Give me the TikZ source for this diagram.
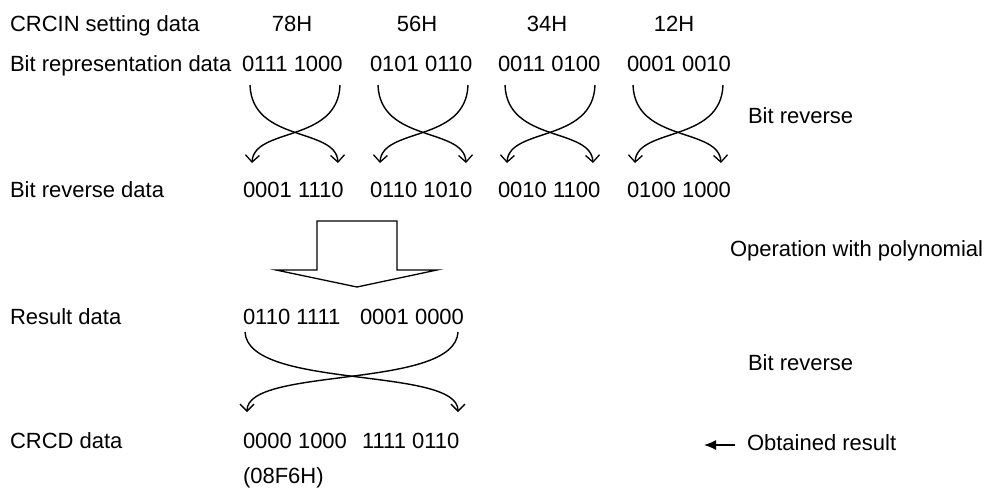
\documentclass[tikz,border=0pt]{standalone}
\usepackage{fontspec}
\setmainfont{Liberation Sans}
\usetikzlibrary{arrows.meta}
\tikzset{
  txt/.style={inner sep=0pt, outer sep=0pt, anchor=base west, font=\fontsize{22}{26}\selectfont},
  hex/.style={txt, anchor=base},
  xarrow/.style={line width=1.4pt, -{Straight Barb[length=7pt,width=14pt,line width=1.3pt]}},
  blockarrow/.style={line width=1.3pt, line join=miter},
  resarrow/.style={line width=1.3pt, -{Latex[length=12pt,width=10pt]}}
}
\begin{document}
\begin{tikzpicture}[x=1pt,y=-1pt]
\useasboundingbox[fill=white] (0,0) rectangle (986,496);
% left labels
\node[txt] (l1) at (10,31) {CRCIN setting data};
\node[txt] (l2) at (10,71) {Bit representation data};
\node[txt] (l3) at (10,197) {Bit reverse data};
\node[txt] (l4) at (10,324) {Result data};
\node[txt] (l5) at (10,448) {CRCD data};
% hex values
\node[hex] (h1) at (292,31) {78H};
\node[hex] (h2) at (417,31) {56H};
\node[hex] (h3) at (547,31) {34H};
\node[hex] (h4) at (674,31) {12H};
% bit representation
\node[txt] (b1) at (242,71) {0111 1000};
\node[txt] (b2) at (370,71) {0101 0110};
\node[txt] (b3) at (498,71) {0011 0100};
\node[txt] (b4) at (627,71) {0001 0010};
% bit reverse
\node[txt] (r1) at (243,197) {0001 1110};
\node[txt] (r2) at (370,197) {0110 1010};
\node[txt] (r3) at (498,197) {0010 1100};
\node[txt] (r4) at (627,197) {0100 1000};
% result
\node[txt] (s1) at (243,324) {0110 1111};
\node[txt] (s2) at (360,324) {0001 0000};
% CRCD
\node[txt] (c1) at (243,448) {0000 1000};
\node[txt] (c2) at (362,448) {1111 0110};
\node[txt] (c3) at (243,483) {(08F6H)};
% right labels
\node[txt] (br1) at (748,123) {Bit reverse};
\node[txt] (op) at (730,256) {Operation with polynomial};
\node[txt] (br2) at (748,370) {Bit reverse};
\node[txt] (ob) at (747,450) {Obtained result};
% crossing arrows
\foreach \g [count=\i] in {250,378,505,633} {
  \coordinate (tl\i) at (\g,85);
  \coordinate (tr\i) at ({\g+90},85);
  \coordinate (bl\i) at ({\g+2},163);
  \coordinate (bw\i) at ({\g+88},163);
  \draw[xarrow] (tl\i) .. controls +(2,58) and +(-2,-36) .. (bw\i);
  \draw[xarrow] (tr\i) .. controls +(-2,58) and +(2,-36) .. (bl\i);
}
% block arrow
\draw[blockarrow] (317,221) -- (397,221) -- (397,270) -- (437,270) -- (357,287)
  -- (276,270) -- (317,270) -- cycle;
% big crossing arrow
\coordinate (ltop) at (245,332);
\coordinate (rtop) at (458,332);
\coordinate (lbot) at (247,412);
\coordinate (rbot) at (458,412);
\draw[xarrow] (ltop) .. controls +(3,58) and +(0,-46) .. (rbot);
\draw[xarrow] (rtop) .. controls +(-3,58) and +(0,-46) .. (lbot);
% obtained result arrow
\coordinate (oa) at (735,445);
\coordinate (oe) at (704,445);
\draw[resarrow] (oa) -- (oe);
\end{tikzpicture}
\end{document}
